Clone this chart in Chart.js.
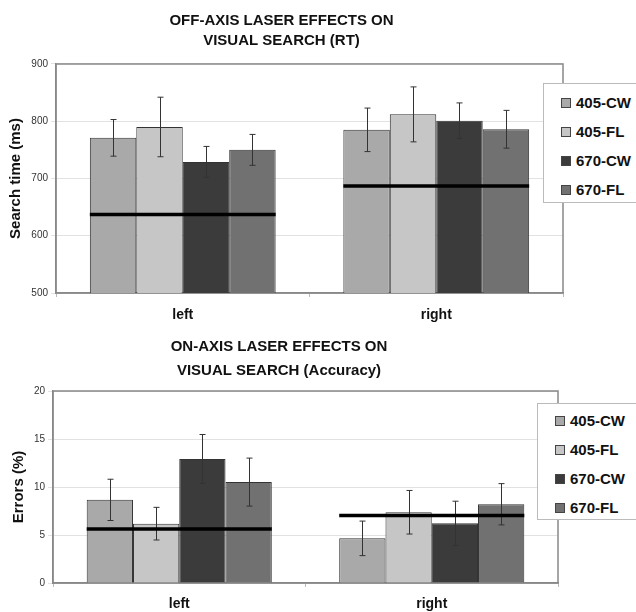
<!DOCTYPE html>
<html>
<head>
<meta charset="utf-8">
<script src="https://cdn.jsdelivr.net/npm/chart.js@4/dist/chart.umd.min.js"></script>
<style>
  html, body { margin: 0; background: #fff; font-family: "Liberation Sans", Arial, sans-serif; overflow: hidden; }
  .panel { position: absolute; left: 0; width: 636px; }
  .legend { position: absolute; background: #fff; border: 1px solid #bbb; width: 140px; box-sizing: border-box; }
  .legend div { height: 29px; line-height: 29px; font-weight: bold; font-size: 15px; color: #111; white-space: nowrap; padding-left: 17px; }
  .legend span { display: inline-block; width: 8px; height: 8px; border: 1px solid #444; margin-right: 5px; vertical-align: 0px; }
</style>
</head>
<body>
<div class="panel" style="top:0;height:330px"><canvas id="rtChart"></canvas></div>
<div class="legend" id="rtLegend" style="left:543px;top:83px;height:120px;padding-top:4px"></div>
<div class="panel" style="top:330px;height:282px"><canvas id="accChart"></canvas></div>
<div class="legend" id="accLegend" style="left:537px;top:403px;height:117px;padding-top:2px"></div>
<script>
// categories and series
const groups = ["left", "right"];
const seriesNames = ["405-CW", "405-FL", "670-CW", "670-FL"];
const seriesColors = ["#a9a9a9", "#c6c6c6", "#3b3b3b", "#717171"];

// search time (ms)
const rt405CW = [771, 785];
const rt405FL = [790, 812];
const rt670CW = [729, 801];
const rt670FL = [750, 786];
const rtSe405CW = [32, 38];
const rtSe405FL = [52, 48];
const rtSe670CW = [27, 31];
const rtSe670FL = [27, 33];
const rtBaseline = [637, 687];

// errors (%)
const acc405CW = [8.66, 4.65];
const acc405FL = [6.18, 7.37];
const acc670CW = [12.92, 6.22];
const acc670FL = [10.51, 8.2];
const accSe405CW = [2.15, 1.8];
const accSe405FL = [1.7, 2.27];
const accSe670CW = [2.55, 2.3];
const accSe670FL = [2.5, 2.15];
const accBaseline = [5.62, 7.02];

const FONT = "'Liberation Sans', Arial, sans-serif";

const framePlugin = {
  id: "frame",
  beforeDatasetsDraw(chart) {
    const a = chart.chartArea, ctx = chart.ctx;
    ctx.save();
    ctx.strokeStyle = "#888";
    ctx.lineWidth = 1.5;
    ctx.strokeRect(a.left, a.top, a.right - a.left, a.bottom - a.top);
    ctx.restore();
  }
};

const extrasPlugin = {
  id: "extras",
  afterDatasetsDraw(chart, args, opts) {
    const ctx = chart.ctx, y = chart.scales.y;
    ctx.save();
    // error bars
    ctx.strokeStyle = "#333";
    ctx.lineWidth = 1;
    chart.data.datasets.forEach((ds, di) => {
      const meta = chart.getDatasetMeta(di);
      meta.data.forEach((bar, i) => {
        const v = ds.data[i], e = ds.errors[i];
        const y1 = y.getPixelForValue(v + e), y2 = y.getPixelForValue(v - e);
        const x = Math.round(bar.x) + 0.5;
        ctx.beginPath();
        ctx.moveTo(x, y1); ctx.lineTo(x, y2);
        ctx.moveTo(x - 3, y1); ctx.lineTo(x + 3, y1);
        ctx.moveTo(x - 3, y2); ctx.lineTo(x + 3, y2);
        ctx.stroke();
      });
    });
    // baseline per group
    const first = chart.getDatasetMeta(0), last = chart.getDatasetMeta(chart.data.datasets.length - 1);
    ctx.strokeStyle = "#000";
    ctx.lineWidth = 3.5;
    opts.baseline.forEach((b, i) => {
      const x0 = first.data[i].x - first.data[i].width / 2;
      const x1 = last.data[i].x + last.data[i].width / 2;
      const py = y.getPixelForValue(b);
      ctx.beginPath();
      ctx.moveTo(x0, py); ctx.lineTo(x1, py);
      ctx.stroke();
    });
    ctx.restore();
  }
};

function buildLegend(id) {
  const el = document.getElementById(id);
  seriesNames.forEach((n, i) => {
    const row = document.createElement("div");
    row.innerHTML = '<span style="background:' + seriesColors[i] + '"></span>' + n;
    el.appendChild(row);
  });
}

function makeChart(id, cfg) {
  const datasets = cfg.values.map((vals, i) => ({
    label: seriesNames[i],
    data: vals,
    errors: cfg.errors[i],
    backgroundColor: seriesColors[i],
    borderColor: "#333",
    borderWidth: 1,
    categoryPercentage: 0.733,
    barPercentage: 1.0
  }));
  return new Chart(document.getElementById(id), {
    type: "bar",
    data: { labels: groups, datasets },
    plugins: [framePlugin, extrasPlugin],
    options: {
      responsive: true,
      maintainAspectRatio: false,
      animation: false,
      layout: { padding: { left: 0, right: cfg.padRight, top: 0, bottom: 0 } },
      plugins: {
        legend: { display: false },
        tooltip: { enabled: false },
        title: {
          display: true,
          text: cfg.title,
          color: "#111",
          font: { family: FONT, size: 15, weight: "bold", lineHeight: cfg.titleLH },
          padding: cfg.titlePad
        },
        extras: { baseline: cfg.baseline }
      },
      scales: {
        x: {
          afterFit(s) { s.height = cfg.xHeight; },
          grid: { offset: true, drawOnChartArea: false, tickLength: 4, color: "#bbb" },
          border: { color: "#888", width: 1.5 },
          ticks: { color: "#111", padding: cfg.xPad, font: { family: FONT, size: 14, weight: "bold" } }
        },
        y: {
          min: cfg.min, max: cfg.max,
          afterFit(s) { s.width = cfg.axisWidth; },
          ticks: { stepSize: cfg.step, color: "#333", padding: 3, font: { family: FONT, size: 10 } },
          grid: { color: "#e2e2e2", tickLength: 5 },
          border: { color: "#888", width: 1.5 },
          title: {
            display: true,
            text: cfg.yTitle,
            color: "#111",
            font: { family: FONT, size: 15, weight: "bold" },
            padding: { top: cfg.yTitlePad, bottom: 0 }
          }
        }
      }
    }
  });
}

buildLegend("rtLegend");
buildLegend("accLegend");

makeChart("rtChart", {
  title: ["OFF-AXIS LASER EFFECTS ON", "VISUAL SEARCH (RT)"],
  titleLH: 1.333,
  titlePad: { top: 11, bottom: 13 },
  values: [rt405CW, rt405FL, rt670CW, rt670FL],
  errors: [rtSe405CW, rtSe405FL, rtSe670CW, rtSe670FL],
  baseline: rtBaseline,
  min: 500, max: 900, step: 100,
  yTitle: "Search time (ms)",
  yTitlePad: 7,
  axisWidth: 56,
  padRight: 73,
  xHeight: 37,
  xPad: 10
});

makeChart("accChart", {
  title: ["ON-AXIS LASER EFFECTS ON", "VISUAL SEARCH (Accuracy)"],
  titleLH: 1.6,
  titlePad: { top: 5, bottom: 8 },
  values: [acc405CW, acc405FL, acc670CW, acc670FL],
  errors: [accSe405CW, accSe405FL, accSe670CW, accSe670FL],
  baseline: accBaseline,
  min: 0, max: 20, step: 5,
  yTitle: "Errors (%)",
  yTitlePad: 10,
  axisWidth: 53,
  padRight: 78,
  xHeight: 29,
  xPad: 9
});
</script>
</body>
</html>
